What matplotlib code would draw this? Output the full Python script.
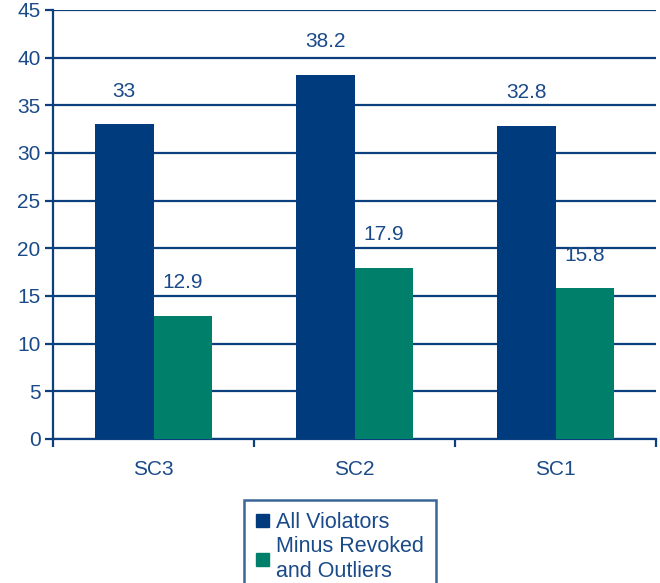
import numpy as np
import matplotlib.pyplot as plt
from matplotlib.patches import Patch

plt.rcParams['font.family'] = ['Liberation Sans', 'DejaVu Sans']

categories = ["SC3", "SC2", "SC1"]
all_violators = [33, 38.2, 32.8]
minus_revoked = [12.9, 17.9, 15.8]
series_names = ["All Violators", "Minus Revoked\nand Outliers"]

blue = "#003C7D"
green = "#00806A"
line_col = "#0B3F7E"
text_col = "#1A4A88"

fig = plt.figure(figsize=(6.6, 5.83), dpi=100)
ax = fig.add_axes([0.0803, 0.247, 0.9137, 0.736])

x = np.arange(len(categories))
w = 0.29
b1 = ax.bar(x - w / 2, all_violators, w, color=blue, zorder=3)
b2 = ax.bar(x + w / 2, minus_revoked, w, color=green, zorder=3)

for bars, vals in ((b1, all_violators), (b2, minus_revoked)):
    for bar, v in zip(bars, vals):
        ax.annotate(f"{v:g}", (bar.get_x() + bar.get_width() / 2, v),
                    xytext=(0, 24), textcoords="offset points",
                    ha="center", va="center", fontsize=15, color=text_col)

ax.set_xlim(-0.5, 2.5)
ax.set_ylim(0, 45)
ax.set_yticks(np.arange(0, 46, 5))
ax.yaxis.grid(True, color=line_col, linewidth=1.6)
ax.set_axisbelow(True)

ax.set_xticks(x)
ax.set_xticklabels(categories)
ax.set_xticks([-0.5, 0.5, 1.5, 2.5], minor=True)
ax.tick_params(axis="x", which="major", length=0, pad=15, labelsize=15, labelcolor=text_col)
ax.tick_params(axis="x", which="minor", length=6, width=1.6, color=line_col, direction="out")
ax.tick_params(axis="y", length=6, width=1.6, color=line_col, labelsize=15, labelcolor=text_col, pad=3)

for side in ("top", "right"):
    ax.spines[side].set_visible(False)
for side in ("left", "bottom"):
    ax.spines[side].set_color(line_col)
    ax.spines[side].set_linewidth(1.6)

handles = [Patch(color=blue), Patch(color=green)]
leg = fig.legend(handles, series_names, loc="upper left", bbox_to_anchor=(0.37, 0.142),
                 fontsize=15.5, frameon=True, fancybox=False, handlelength=0.6,
                 handleheight=0.6, handletextpad=0.35, labelspacing=0.12,
                 borderpad=0.55, borderaxespad=0, labelcolor=text_col)
for t in leg.get_texts():
    t.set_linespacing(1.3)
leg.get_frame().set_edgecolor(line_col)
leg.get_frame().set_linewidth(1.8)

fig.savefig("out.png", dpi=100)
